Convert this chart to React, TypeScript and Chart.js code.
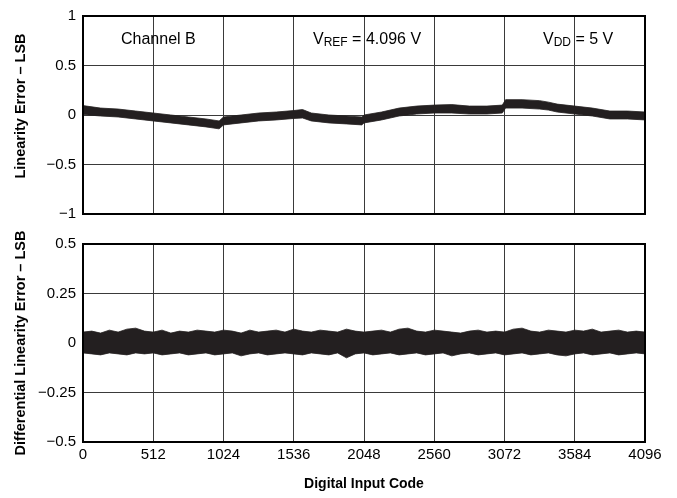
import React, { useEffect, useRef } from "react";
import { Chart, registerables } from "chart.js";

Chart.register(...registerables);

const FONT = "'Liberation Sans', Arial, Helvetica, sans-serif";

// Axes
const xTicks = [0, 512, 1024, 1536, 2048, 2560, 3072, 3584, 4096];
const xTickLabels = ["0", "512", "1024", "1536", "2048", "2560", "3072", "3584", "4096"];
const inlTicks = [-1, -0.5, 0, 0.5, 1];
const inlTickLabels = ["−1", "−0.5", "0", "0.5", "1"];
const dnlTicks = [-0.5, -0.25, 0, 0.25, 0.5];
const dnlTickLabels = ["−0.5", "−0.25", "0", "0.25", "0.5"];

// Integral linearity error – envelope of the noisy trace (LSB)
const inlCodes = [0, 128, 256, 384, 512, 640, 768, 896, 992, 1024, 1152, 1280, 1408, 1536, 1600, 1664, 1792, 1920, 2032, 2048, 2176, 2304, 2432, 2560, 2688, 2816, 2944, 3056, 3080, 3200, 3328, 3392, 3456, 3584, 3712, 3840, 3968, 4096];
const inlUpper = [0.095, 0.07, 0.06, 0.04, 0.02, 0.0, -0.02, -0.04, -0.06, -0.02, 0.0, 0.02, 0.03, 0.045, 0.055, 0.02, 0.0, -0.01, -0.02, 0.0, 0.03, 0.07, 0.09, 0.10, 0.105, 0.09, 0.09, 0.10, 0.155, 0.155, 0.145, 0.13, 0.11, 0.09, 0.07, 0.04, 0.04, 0.03];
const inlLower = [0.005, -0.01, -0.02, -0.04, -0.06, -0.08, -0.10, -0.12, -0.14, -0.10, -0.08, -0.06, -0.05, -0.035, -0.03, -0.06, -0.08, -0.09, -0.10, -0.08, -0.05, -0.01, 0.01, 0.02, 0.02, 0.01, 0.01, 0.02, 0.07, 0.07, 0.06, 0.05, 0.03, 0.01, -0.01, -0.04, -0.04, -0.05];

// Differential linearity error – envelope of the noisy trace (LSB), every 64 codes
const dnlStep = 64;
const dnlUpper = [
  0.055, 0.06, 0.05, 0.065, 0.055, 0.07, 0.075, 0.06, 0.055, 0.065, 0.05, 0.06, 0.055,
  0.065, 0.06, 0.055, 0.065, 0.06, 0.05, 0.065, 0.055, 0.06, 0.065, 0.055, 0.07, 0.06,
  0.055, 0.065, 0.06, 0.055, 0.07, 0.06, 0.055, 0.06, 0.065, 0.055, 0.07, 0.075, 0.06,
  0.055, 0.065, 0.06, 0.055, 0.05, 0.06, 0.065, 0.055, 0.06, 0.055, 0.07, 0.075, 0.06,
  0.055, 0.065, 0.06, 0.055, 0.065, 0.06, 0.07, 0.055, 0.06, 0.065, 0.055, 0.06, 0.055,
];
const dnlLower = [
  -0.05, -0.055, -0.06, -0.05, -0.055, -0.06, -0.05, -0.055, -0.05, -0.06, -0.055, -0.05, -0.06,
  -0.055, -0.05, -0.06, -0.055, -0.05, -0.065, -0.055, -0.05, -0.06, -0.055, -0.05, -0.055, -0.06,
  -0.05, -0.055, -0.06, -0.05, -0.075, -0.055, -0.05, -0.06, -0.055, -0.05, -0.06, -0.055, -0.05,
  -0.06, -0.055, -0.05, -0.065, -0.055, -0.05, -0.06, -0.055, -0.05, -0.06, -0.055, -0.05, -0.06,
  -0.055, -0.05, -0.06, -0.065, -0.055, -0.05, -0.06, -0.055, -0.05, -0.06, -0.055, -0.05, -0.055,
];
const dnlCodes = dnlUpper.map((_, i) => i * dnlStep);

const TRACE = "#231f20";
const GRID = "#3a3a3a";

const framePlugin = {
  id: "frame",
  afterDatasetsDraw(chart: any) {
    const { ctx, chartArea: a } = chart;
    ctx.save();
    ctx.strokeStyle = "#000";
    ctx.lineWidth = 2;
    ctx.strokeRect(a.left, a.top, a.right - a.left, a.bottom - a.top);
    ctx.restore();
  },
};

function drawSub(ctx: any, x: number, y: number, main: string, sub: string, rest: string) {
  ctx.font = `16px ${FONT}`;
  ctx.fillText(main, x, y);
  x += ctx.measureText(main).width;
  ctx.font = `12px ${FONT}`;
  ctx.fillText(sub, x, y + 2);
  x += ctx.measureText(sub).width;
  ctx.font = `16px ${FONT}`;
  ctx.fillText(rest, x, y);
}

const notesPlugin = {
  id: "notes",
  afterDraw(chart: any) {
    const { ctx } = chart;
    ctx.save();
    ctx.fillStyle = "#000";
    ctx.textBaseline = "alphabetic";
    ctx.textAlign = "left";
    ctx.font = `16px ${FONT}`;
    ctx.fillText("Channel B", 121, 43.5);
    drawSub(ctx, 313, 43.5, "V", "REF", " = 4.096 V");
    drawSub(ctx, 543, 43.5, "V", "DD", " = 5 V");
    // y-axis title of the upper panel (sits a little above the axis centre in the reference)
    ctx.translate(21, 106);
    ctx.rotate(-Math.PI / 2);
    ctx.textAlign = "center";
    ctx.textBaseline = "middle";
    ctx.font = `bold 14.5px ${FONT}`;
    ctx.fillText("Linearity Error – LSB", 0, 0);
    ctx.restore();
  },
};

function band(codes: number[], upper: number[], lower: number[]) {
  return [
    {
      data: codes.map((c, i) => ({ x: c, y: upper[i] })),
      borderColor: TRACE,
      backgroundColor: TRACE,
      borderWidth: 0.8,
      pointRadius: 0,
      fill: "+1",
    },
    {
      data: codes.map((c, i) => ({ x: c, y: lower[i] })),
      borderColor: TRACE,
      backgroundColor: TRACE,
      borderWidth: 0.8,
      pointRadius: 0,
      fill: false,
    },
  ];
}

function yScale(min: number, max: number, ticks: number[], labels: string[], title: string, showTitle: boolean) {
  return {
    type: "linear",
    min,
    max,
    afterBuildTicks: (s: any) => {
      s.ticks = ticks.map((v) => ({ value: v }));
    },
    afterFit: (s: any) => {
      s.width = 83;
    },
    ticks: {
      font: { size: 15, family: FONT },
      color: "#000",
      padding: 7,
      callback: (v: number) => labels[ticks.indexOf(v)] ?? "",
    },
    grid: { color: GRID, lineWidth: 1, drawTicks: false },
    border: { display: false },
    title: {
      display: showTitle,
      text: title,
      color: "#000",
      font: { size: 14.5, weight: "bold", family: FONT },
      padding: { top: 12, bottom: 0 },
    },
  };
}

function xScale(showLabels: boolean) {
  return {
    type: "linear",
    min: 0,
    max: 4096,
    afterBuildTicks: (s: any) => {
      s.ticks = xTicks.map((v) => ({ value: v }));
    },
    afterFit: (s: any) => {
      s.height = showLabels ? 56 : 0;
    },
    ticks: {
      display: showLabels,
      font: { size: 15, family: FONT },
      color: "#000",
      padding: 4,
      maxRotation: 0,
      autoSkip: false,
      callback: (v: number) => xTickLabels[xTicks.indexOf(v)] ?? "",
    },
    grid: { color: GRID, lineWidth: 1, drawTicks: false },
    border: { display: false },
    title: {
      display: showLabels,
      text: "Digital Input Code",
      color: "#000",
      font: { size: 14, weight: "bold", family: FONT },
      padding: { top: 4, bottom: 5 },
    },
  };
}

export default function App() {
  const topRef = useRef<HTMLCanvasElement>(null);
  const botRef = useRef<HTMLCanvasElement>(null);

  useEffect(() => {
    Chart.defaults.font.family = FONT;
    const top = new Chart(topRef.current as HTMLCanvasElement, {
      type: "line",
      data: { datasets: band(inlCodes, inlUpper, inlLower) as any },
      options: {
        animation: false,
        responsive: false,
        maintainAspectRatio: false,
        layout: { padding: { left: 0, top: 14, right: 32, bottom: 14 } },
        plugins: { legend: { display: false }, tooltip: { enabled: false } },
        scales: {
          x: xScale(false) as any,
          y: yScale(-1, 1, inlTicks, inlTickLabels, "Linearity Error – LSB", false) as any,
        },
      },
      plugins: [framePlugin, notesPlugin],
    });
    const bot = new Chart(botRef.current as HTMLCanvasElement, {
      type: "line",
      data: { datasets: band(dnlCodes, dnlUpper, dnlLower) as any },
      options: {
        animation: false,
        responsive: false,
        maintainAspectRatio: false,
        layout: { padding: { left: 0, top: 12, right: 32, bottom: 0 } },
        plugins: { legend: { display: false }, tooltip: { enabled: false } },
        scales: {
          x: xScale(true) as any,
          y: yScale(-0.5, 0.5, dnlTicks, dnlTickLabels, "Differential Linearity Error – LSB", true) as any,
        },
      },
      plugins: [framePlugin],
    });
    return () => {
      top.destroy();
      bot.destroy();
    };
  }, []);

  return (
    <div style={{ position: "absolute", left: 0, top: 0, width: 677, height: 498, background: "#fff" }}>
      <canvas ref={topRef} width={677} height={230} style={{ position: "absolute", left: 0, top: 0 }} />
      <canvas ref={botRef} width={677} height={270} style={{ position: "absolute", left: 0, top: 228 }} />
    </div>
  );
}
